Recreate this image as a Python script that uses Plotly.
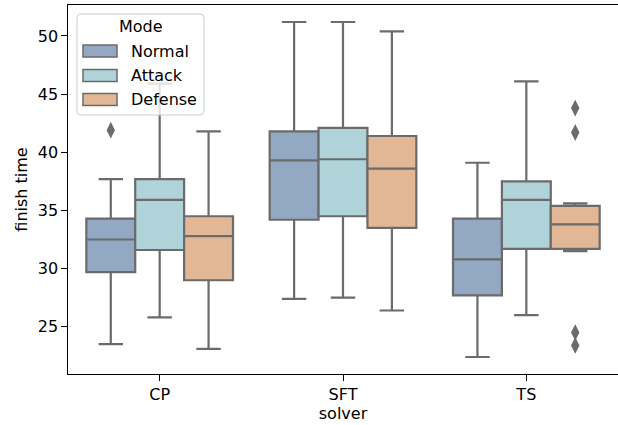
import plotly.graph_objects as go

# ---- data ----
solvers = ["CP", "SFT", "TS"]
modes = ["Normal", "Attack", "Defense"]
colors = ["#93A8C2", "#AFD3D8", "#E2B796"]
line_gray = "#6B6B6B"

# per mode: values per solver (CP, SFT, TS)
lower_whisker = {
    "Normal":  [23.5, 27.4, 22.4],
    "Attack":  [25.8, 27.5, 26.0],
    "Defense": [23.1, 26.4, 31.5],
}
q1 = {
    "Normal":  [29.7, 34.2, 27.7],
    "Attack":  [31.6, 34.5, 31.7],
    "Defense": [29.0, 33.5, 31.7],
}
median = {
    "Normal":  [32.5, 39.3, 30.8],
    "Attack":  [35.9, 39.4, 35.9],
    "Defense": [32.8, 38.6, 33.8],
}
q3 = {
    "Normal":  [34.3, 41.8, 34.3],
    "Attack":  [37.7, 42.1, 37.5],
    "Defense": [34.5, 41.4, 35.4],
}
upper_whisker = {
    "Normal":  [37.7, 51.2, 39.1],
    "Attack":  [45.9, 51.2, 46.1],
    "Defense": [41.8, 50.4, 35.6],
}
outliers = {
    "Normal":  [[41.9], [], []],
    "Attack":  [[], [], []],
    "Defense": [[], [], [43.8, 41.7, 24.5, 23.4]],
}

y_ticks = [25, 30, 35, 40, 45, 50]

# ---- figure ----
group_width = 0.8
box_w = group_width / len(modes)
offsets = [(-1 + k) * box_w for k in range(len(modes))]

fig = go.Figure()
for k, m in enumerate(modes):
    xs = [i + offsets[k] for i in range(len(solvers))]
    fig.add_trace(go.Box(
        x=xs, q1=q1[m], median=median[m], q3=q3[m],
        lowerfence=lower_whisker[m], upperfence=upper_whisker[m],
        width=box_w, whiskerwidth=0.5,
        fillcolor=colors[k], line=dict(color=line_gray, width=2.2),
        boxpoints=False, name=m, showlegend=False, hoverinfo="skip",
    ))
    ox, oy = [], []
    for i, vals in enumerate(outliers[m]):
        for v in vals:
            ox.append(i + offsets[k])
            oy.append(v)
    if ox:
        fig.add_trace(go.Scatter(
            x=ox, y=oy, mode="markers", showlegend=False, hoverinfo="skip",
            marker=dict(symbol="diamond-tall", size=12, color=line_gray,
                        line=dict(width=0)),
        ))

font = dict(family="DejaVu Sans", size=16, color="black")

# ---- manual legend (matplotlib style) ----
L, T, W, H = 68, 5, 550, 369

def px_x(p):
    return (p - L) / float(W)

def px_y(p):
    return 1 - (p - T) / float(H)

def rounded_rect(x0, y0, x1, y1, r):
    pts = []
    def P(x, y):
        return f"{px_x(x):.5f},{px_y(y):.5f}"
    return (f"M {P(x0 + r, y0)} L {P(x1 - r, y0)} Q {P(x1, y0)} {P(x1, y0 + r)} "
            f"L {P(x1, y1 - r)} Q {P(x1, y1)} {P(x1 - r, y1)} "
            f"L {P(x0 + r, y1)} Q {P(x0, y1)} {P(x0, y1 - r)} "
            f"L {P(x0, y0 + r)} Q {P(x0, y0)} {P(x0 + r, y0)} Z")

fig.add_shape(type="path", xref="paper", yref="paper",
              path=rounded_rect(77, 14, 204, 115, 4),
              line=dict(color="#CCCCCC", width=1), fillcolor="rgba(255,255,255,0.8)",
              layer="above")
fig.add_annotation(text="Mode", xref="paper", yref="paper", x=px_x(141), y=px_y(27),
                   showarrow=False, xanchor="center", yanchor="middle", font=font)
item_y = [51, 75.5, 99.5]
for k, m in enumerate(modes):
    fig.add_shape(type="rect", xref="paper", yref="paper",
                  x0=px_x(83), x1=px_x(117), y0=px_y(item_y[k] + 6), y1=px_y(item_y[k] - 6),
                  line=dict(color=line_gray, width=1.5), fillcolor=colors[k], layer="above")
    fig.add_annotation(text=m, xref="paper", yref="paper", x=px_x(129), y=px_y(item_y[k]),
                       showarrow=False, xanchor="left", yanchor="middle", font=font)

fig.update_layout(
    width=618, height=425,
    margin=dict(l=68, r=0, t=5, b=51, autoexpand=False),
    paper_bgcolor="white", plot_bgcolor="white",
    font=font,
    showlegend=False,
)
fig.update_xaxes(
    range=[-0.5, 2.5], tickmode="array", tickvals=list(range(len(solvers))), ticktext=solvers,
    showgrid=False, zeroline=False, showline=True, linecolor="black", linewidth=1.3, mirror=True,
    ticks="outside", ticklen=5.5, tickcolor="black", tickwidth=1.3,
    title=dict(text="solver", font=font, standoff=4),
    automargin=False,
)
fig.update_yaxes(
    range=[20.94, 52.66], tickmode="array", tickvals=y_ticks,
    showgrid=False, zeroline=False, showline=True, linecolor="black", linewidth=1.3, mirror=False,
    ticks="outside", ticklen=5.5, tickcolor="black", tickwidth=1.3,
    title=dict(text="finish time", font=font, standoff=6),
    automargin=False,
)

fig.write_html(
    "out.html",
    config={"displayModeBar": False},
    post_script="document.body.style.margin='0';document.body.style.overflow='hidden';",
)
